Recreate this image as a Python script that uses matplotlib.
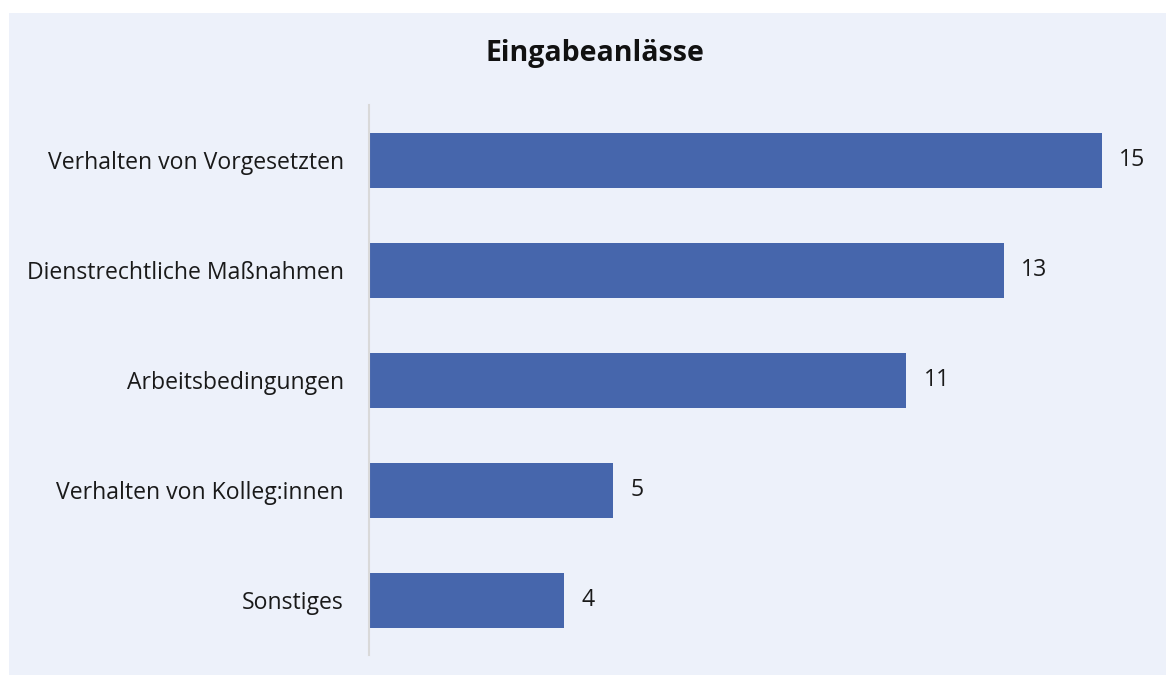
import matplotlib
matplotlib.use("Agg")
import matplotlib.pyplot as plt
from matplotlib.patches import Rectangle

categories = ["Verhalten von Vorgesetzten", "Dienstrechtliche Maßnahmen",
              "Arbeitsbedingungen", "Verhalten von Kolleg:innen", "Sonstiges"]
values = [15, 13, 11, 5, 4]
title = "Eingabeanlässe"

bg = "#EDF1FA"
bar_color = "#4666AC"

plt.rcParams['font.family'] = ['Open Sans', 'DejaVu Sans']

W, H = 1166, 675
fig = plt.figure(figsize=(W / 100, H / 100), dpi=100)
fig.patch.set_facecolor("white")
fig.patches.append(Rectangle((9 / W, 0), 1 - 9 / W, 1 - 13 / H,
                             transform=fig.transFigure, facecolor=bg,
                             edgecolor="none", zorder=-10))

ax = fig.add_axes([369 / W, 1 - 655 / H, (1160 - 369) / W, (655 - 105) / H])
ax.set_facecolor("none")
y = list(range(len(categories)))
ax.barh(y, values, height=0.5, color=bar_color)
ax.set_ylim(len(categories) - 0.5, -0.5)
ax.set_xlim(0, 16.19)
ax.set_yticks(y)
ax.set_yticklabels(categories, fontsize=16.6, color="#1a1a1a")
ax.tick_params(axis="y", length=0, pad=18)
ax.set_xticks([])
for s in ["top", "right", "bottom"]:
    ax.spines[s].set_visible(False)
ax.spines["left"].set_color("#D9D9D9")
ax.spines["left"].set_linewidth(1.5)

for yi, v in zip(y, values):
    ax.text(v + 0.35, yi, str(v), va="center", ha="left", fontsize=16.6, color="#1a1a1a")

fig.text(595 / W, 1 - 53 / H, title, ha="center", va="center",
         fontsize=20.5, fontweight="bold", color="#111111")

fig.savefig("out.png", dpi=100)
